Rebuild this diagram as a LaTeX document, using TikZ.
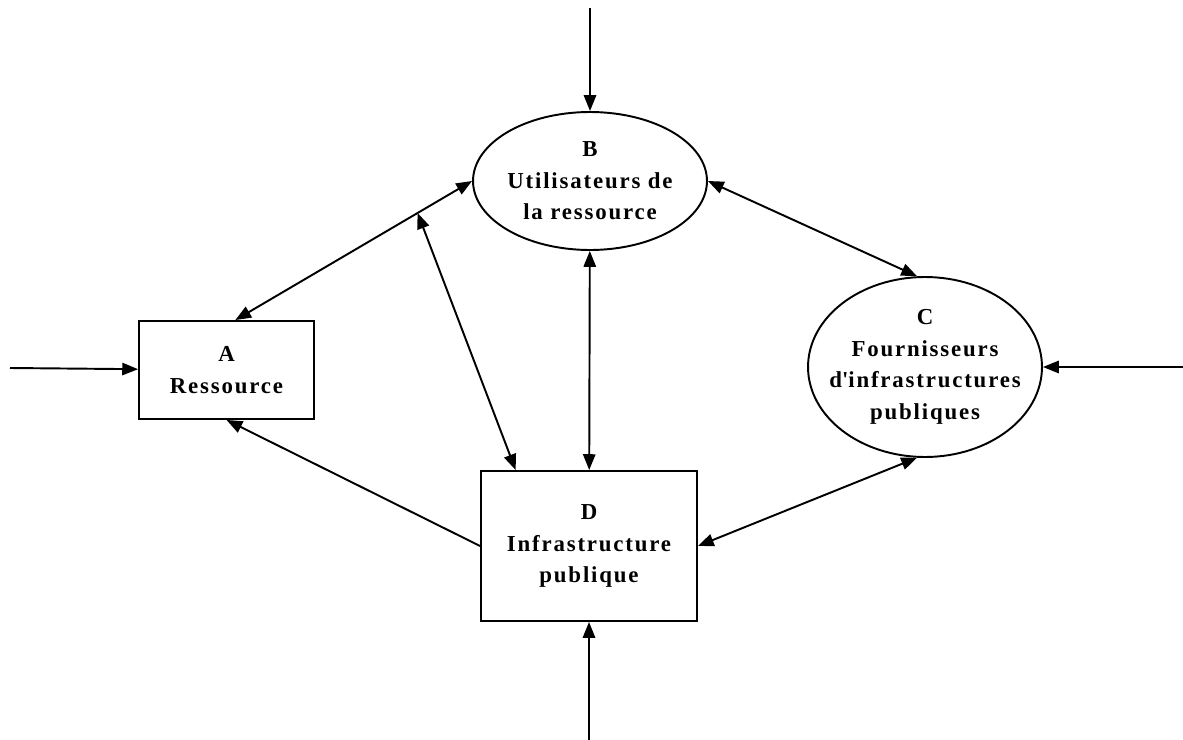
\documentclass[tikz,border=0pt]{standalone}
\usepackage{fontspec}
\setmainfont{Liberation Serif}[LetterSpace=8]
\usetikzlibrary{arrows.meta,shapes.geometric}
\begin{document}
\begin{tikzpicture}[x=0.02cm,y=-0.02cm,line width=1.1pt,>={Triangle[length=9pt,width=7pt]}]
	\tikzstyle{Box} = [rectangle, draw, align=center, font=\bfseries\fontsize{13}{18}\selectfont, inner sep=0pt]
	\tikzstyle{Oval} = [ellipse, draw, align=center, font=\bfseries\fontsize{13}{18}\selectfont, inner sep=0pt]
	\useasboundingbox (0,0) rectangle (1183,740);
	\node (A) at (226.5,370) [Box, minimum width=3.5cm, minimum height=1.96cm] {A\\Ressource};
	\node (B) at (590,181) [Oval, minimum width=4.68cm, minimum height=2.76cm] {B\\Utilisateurs de\\la ressource};
	\node (C) at (925,367) [Oval, inner xsep=-13pt, minimum width=4.68cm, minimum height=3.6cm] {C\\Fournisseurs\\d\textquotesingle infrastructures\\publiques};
	\node (D) at (589,546) [Box, minimum width=4.32cm, minimum height=3cm] {D\\Infrastructure\\publique};
	\coordinate (top) at (590,8);
	\coordinate (left) at (10,368);
	\coordinate (right) at (1183,367);
	\coordinate (bottom) at (589,740);
	\draw [->] (top) to (B);
	\draw [->] (left) to (A);
	\draw [->] (right) to (C);
	\draw [->] (bottom) to (D);
	\draw [<->] (A.80) to coordinate[pos=0.77] (AB) (B.west);
	\draw [<->] (AB) to (D.134);
	\draw [<->] (B) to (D);
	\draw [<->] (B.east) to (C.95);
	\draw [<->] (C.265) to (D.east);
	\draw [->] (D.west) to (A.south);
\end{tikzpicture}
\end{document}
